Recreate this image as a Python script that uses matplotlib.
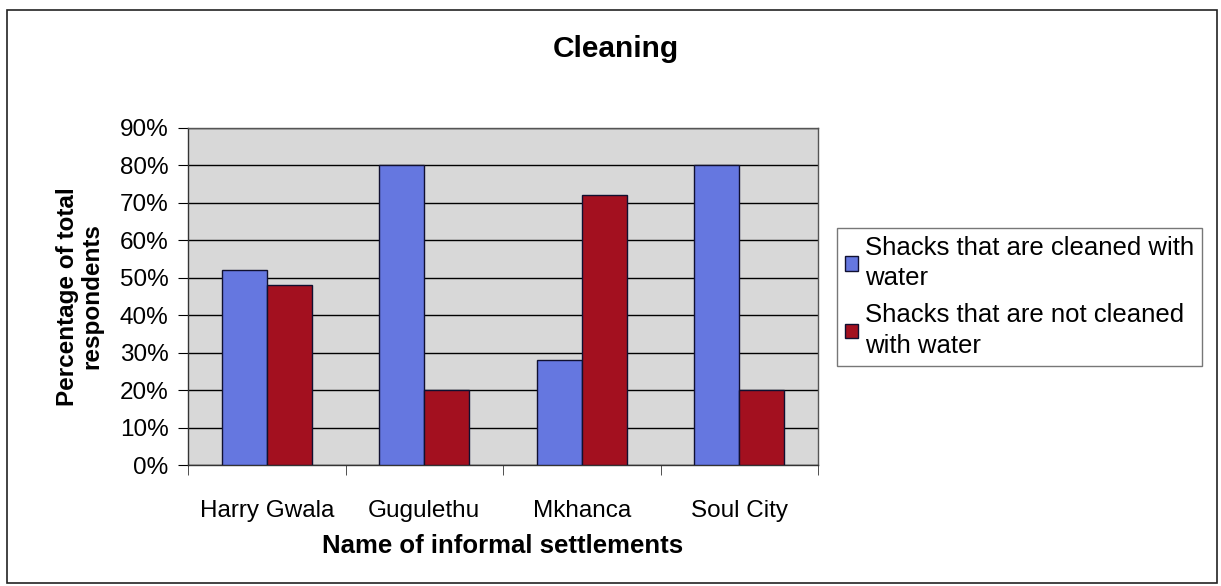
import numpy as np
import matplotlib.pyplot as plt
from matplotlib.patches import Rectangle

# settlement survey results (share of respondents)
settlements = ["Harry Gwala", "Gugulethu", "Mkhanca", "Soul City"]
cleaned_with_water = [0.52, 0.80, 0.28, 0.80]
not_cleaned_with_water = [0.48, 0.20, 0.72, 0.20]
series_names = ["Shacks that are cleaned with\nwater",
                "Shacks that are not cleaned\nwith water"]
y_ticks = [0.0, 0.1, 0.2, 0.3, 0.4, 0.5, 0.6, 0.7, 0.8, 0.9]

BLUE = "#6577e0"
RED = "#a3101f"
EDGE = "#101030"
PLOT_BG = "#d8d8d8"

plt.rcParams["font.family"] = ["Liberation Sans", "DejaVu Sans"]

W, H = 1221, 586
fig = plt.figure(figsize=(W / 100, H / 100), dpi=100)
fig.patch.set_facecolor("white")

# outer chart frame
fig.patches.append(Rectangle((7 / W, 1 - 583 / H), 1210 / W, 573 / H,
                             transform=fig.transFigure, fill=False,
                             edgecolor="#222222", linewidth=1.2))

left, right, top, bottom = 188, 818, 128, 465
ax = fig.add_axes([left / W, 1 - bottom / H, (right - left) / W, (bottom - top) / H])
ax.set_facecolor(PLOT_BG)

x = np.arange(len(settlements))
bw = 1 / 3.5  # gap width 150%
b1 = ax.bar(x - bw / 2, cleaned_with_water, bw, color=BLUE, edgecolor=EDGE,
            linewidth=1.0, zorder=3, label=series_names[0])
b2 = ax.bar(x + bw / 2, not_cleaned_with_water, bw, color=RED, edgecolor=EDGE,
            linewidth=1.0, zorder=3, label=series_names[1])

ax.set_xlim(-0.5, len(settlements) - 0.5)
ax.set_ylim(0, 0.9)
ax.set_yticks(y_ticks)
ax.set_yticklabels([f"{int(round(v * 100))}%" for v in y_ticks], fontsize=17.5)
ax.yaxis.grid(True, color="black", linewidth=1.0, zorder=1)
ax.set_axisbelow(True)

# category labels centred, tick marks on the category boundaries
ax.set_xticks(x)
ax.set_xticklabels(settlements, fontsize=17.5)
ax.tick_params(axis="x", length=0, pad=25)
ax.set_xticks(np.arange(len(settlements) + 1) - 0.5, minor=True)
ax.tick_params(axis="x", which="minor", length=7, direction="out", color="#333333")
ax.tick_params(axis="y", length=7, direction="out", pad=7)

for side in ["left", "bottom"]:
    ax.spines[side].set_color("#333333")
    ax.spines[side].set_linewidth(1.0)
for side in ["top", "right"]:
    ax.spines[side].set_color("#555555")
    ax.spines[side].set_linewidth(1.0)

ax.set_xlabel("Name of informal settlements", fontsize=18.5, fontweight="bold", labelpad=9)
ax.set_ylabel("Percentage of total\nrespondents", fontsize=17.5, fontweight="bold",
              labelpad=12, linespacing=1.05)

fig.text(616 / W, 1 - 49 / H, "Cleaning", ha="center", va="center",
         fontsize=21.5, fontweight="bold")

leg = fig.legend(handles=[b1, b2], loc="upper left",
                 bbox_to_anchor=(837 / W, 1 - 228 / H), fontsize=18.5,
                 frameon=True, fancybox=False, handlelength=0.5, handleheight=0.5,
                 handletextpad=0.3, borderpad=0.3, labelspacing=0.5,
                 borderaxespad=0)
for t in leg.get_texts():
    t.set_linespacing(1.35)
leg.get_frame().set_edgecolor("#555555")
leg.get_frame().set_linewidth(1.0)

fig.savefig("out.png", dpi=100)
